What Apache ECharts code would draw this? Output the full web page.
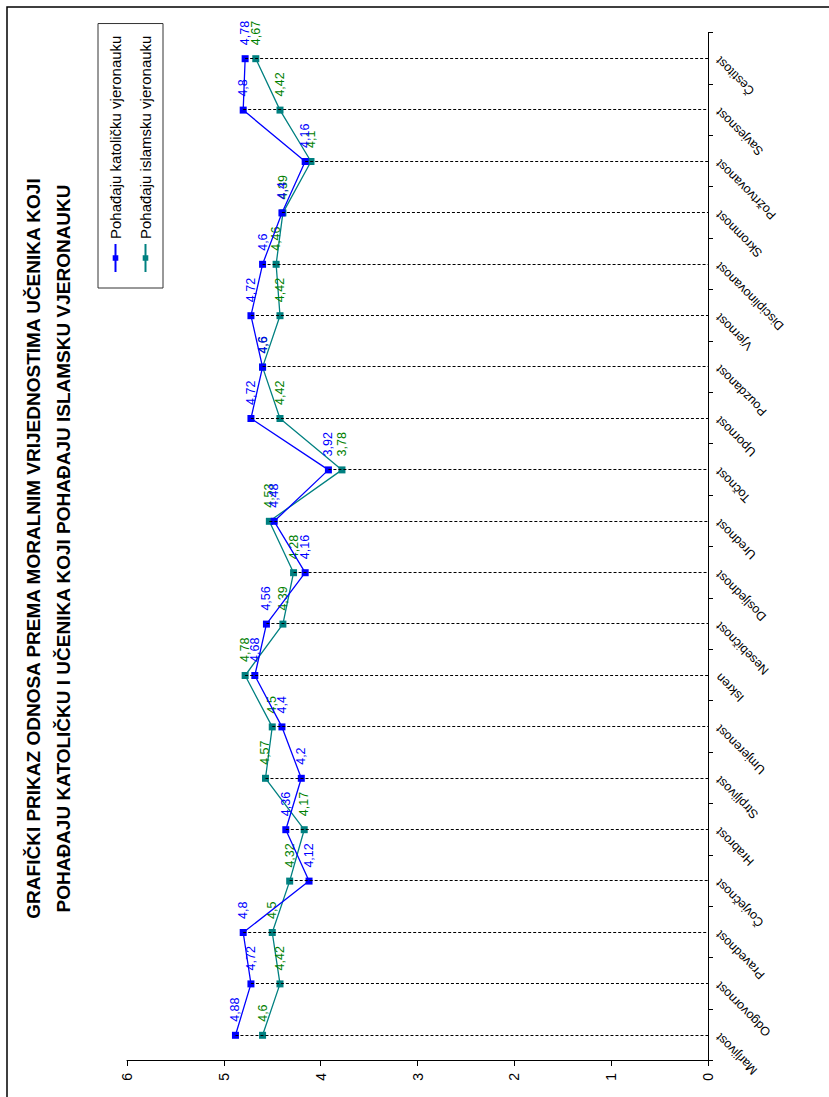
<!DOCTYPE html>
<html>
<head>
<meta charset="utf-8">
<script src="https://cdn.jsdelivr.net/npm/echarts@6/dist/echarts.min.js"></script>
<style>
html,body{margin:0;padding:0;background:#fff;overflow:hidden;width:829px;height:1097px;}
#wrap{position:absolute;left:0;top:0;width:1097px;height:829px;transform-origin:0 0;transform:translate(0px,1097px) rotate(-90deg);background:#fff;}
</style>
</head>
<body>
<div id="wrap"></div>
<script>
const categories = ["Marljivost","Odgovornost","Pravednost","Čovječnost","Hrabrost","Strpljivost","Umjerenost","Iskren","Nesebičnost","Dosljednost","Urednost","Točnost","Upornost","Pouzdanost","Vjernost","Disciplinovanost","Skromnost","Požrtvovanost","Savjesnost","Čestitost"];
const katolicka = [4.88,4.72,4.8,4.12,4.36,4.2,4.4,4.68,4.56,4.16,4.48,3.92,4.72,4.6,4.72,4.6,4.4,4.16,4.8,4.78];
const islamska = [4.6,4.42,4.5,4.32,4.17,4.57,4.5,4.78,4.39,4.28,4.53,3.78,4.42,4.6,4.42,4.46,4.39,4.1,4.42,4.67];
const valueTicks = [0,1,2,3,4,5,6];
const seriesNames = ["Pohađaju katoličku vjeronauku","Pohađaju islamsku vjeronauku"];
const titleLines = ["GRAFIČKI PRIKAZ ODNOSA PREMA MORALNIM VRIJEDNOSTIMA UČENIKA KOJI","POHAĐAJU KATOLIČKU I UČENIKA KOJI POHAĐAJU ISLAMSKU VJERONAUKU"];

const FONT = "'Liberation Sans', Arial, sans-serif";
const chart = echarts.init(document.getElementById('wrap'), null, {renderer:'svg'});
const fmt = p => String(p.value).replace('.', ',');
const dropLines = categories.map((c,i) => [
  {coord:[c, Math.max(katolicka[i], islamska[i])]},
  {coord:[c, valueTicks[0]]}
]);

chart.setOption({
  backgroundColor:'#fff',
  animation:false,
  textStyle:{fontFamily:FONT},
  title:{
    text: titleLines.join('\n'),
    left:'center', top:14,
    textStyle:{fontSize:19, fontWeight:'bold', color:'#000', lineHeight:29.5, fontFamily:FONT}
  },
  legend:{
    data: seriesNames,
    orient:'vertical', left:809, top:98,
    itemWidth:28, itemHeight:7, itemGap:15,
    padding:[10,12,10,15],
    borderColor:'#333', borderWidth:1,
    textStyle:{fontSize:15, color:'#000', fontFamily:FONT}
  },
  graphic:[{
    type:'rect', silent:true, z:-1,
    shape:{x:-5, y:7, width:1095, height:830},
    style:{fill:'none', stroke:'#000', lineWidth:1.5}
  }],
  grid:{left:36, right:33, top:127, bottom:121},
  xAxis:{
    type:'category', data:categories, boundaryGap:true,
    axisLine:{lineStyle:{color:'#000', width:1}},
    axisTick:{show:true, length:5, lineStyle:{color:'#000'}},
    axisLabel:{rotate:45, interval:0, fontSize:12.5, color:'#000', margin:10, fontFamily:FONT},
    splitLine:{show:false}
  },
  yAxis:{
    type:'value', min:valueTicks[0], max:valueTicks[valueTicks.length-1], interval:1,
    axisLine:{show:true, lineStyle:{color:'#000', width:1}},
    axisTick:{show:true, length:5, lineStyle:{color:'#000'}},
    axisLabel:{fontSize:14, color:'#000', margin:12, fontFamily:FONT},
    splitLine:{show:false}
  },
  series:[
    {
      name:'drop', type:'line', data:[], z:1, silent:true,
      markLine:{
        silent:true, symbol:['none','none'], animation:false,
        label:{show:false},
        lineStyle:{color:'#000', type:[3,2], width:1},
        emphasis:{disabled:true},
        data: dropLines
      }
    },
    {
      name:seriesNames[0], type:'line', data:katolicka, z:3,
      symbol:'rect', symbolSize:7,
      itemStyle:{color:'#0000FF'},
      lineStyle:{color:'#0000FF', width:1.3},
      label:{show:true, position:'right', distance:10, color:'#0000FF', fontSize:12.5, formatter:fmt, fontFamily:FONT}
    },
    {
      name:seriesNames[1], type:'line', data:islamska, z:2,
      symbol:'rect', symbolSize:7,
      itemStyle:{color:'#008080'},
      lineStyle:{color:'#008080', width:1.3},
      label:{show:true, position:'right', distance:10, color:'#008000', fontSize:12.5, formatter:fmt, fontFamily:FONT}
    }
  ]
});
</script>
</body>
</html>
